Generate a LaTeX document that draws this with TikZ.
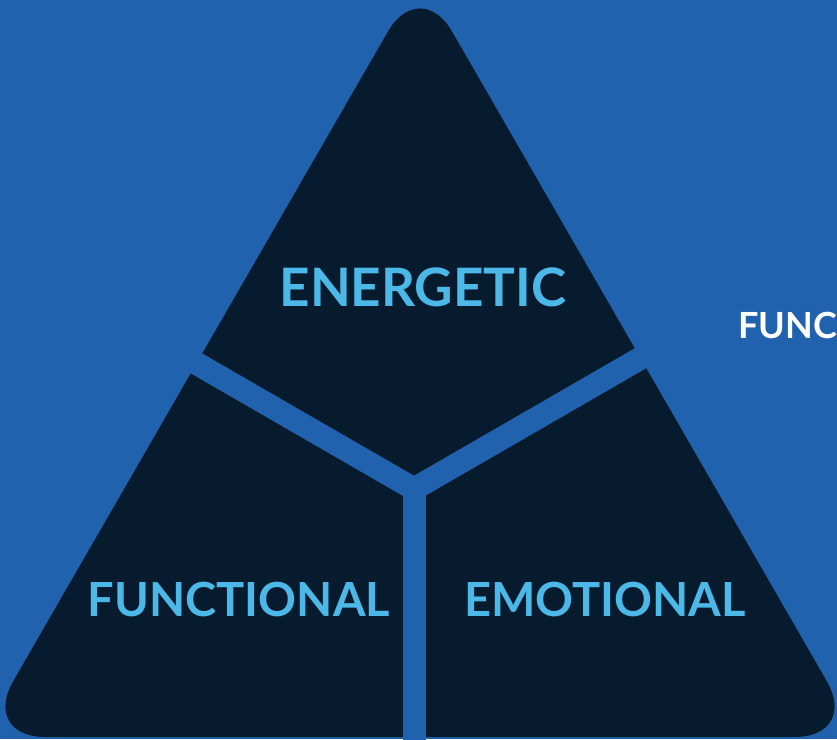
\documentclass[tikz,border=0pt]{standalone}
\usepackage{fontspec}
\setmainfont{Lato}
\definecolor{bgblue}{HTML}{2162AF}
\definecolor{navy}{HTML}{071B2F}
\definecolor{labelblue}{HTML}{4BB8E8}
\tikzset{
  seglabel/.style={text=labelblue, font=\fontsize{47}{54}\selectfont\bfseries, inner sep=0pt, anchor=base},
  gapline/.style={draw=bgblue, line width=23pt},
}
\begin{document}
\begin{tikzpicture}[x=1pt,y=-1pt]
\useasboundingbox (0,0) rectangle (837,739);
\clip (0,0) rectangle (837,739);
\fill[bgblue] (0,0) rectangle (837,739);
\fill[navy, rounded corners=64pt] (420,-24) -- (859,737) -- (-19,737) -- cycle;
\coordinate (C) at (414,489);
\coordinate (armL) at (67.6,289);
\coordinate (armR) at (760.4,289);
\coordinate (armD) at (414,800);
\draw[gapline] (C) -- (armL);
\draw[gapline] (C) -- (armR);
\draw[gapline] (C) -- (armD);
\node[seglabel, font=\fontsize{53}{60}\selectfont\bfseries] (energetic) at (423,306) {ENERGETIC};
\node[seglabel] (functional) at (239,616) {FUNCTIONAL};
\node[seglabel] (emotional) at (605,616) {EMOTIONAL};
\node[text=white, font=\fontsize{36}{42}\selectfont\bfseries, inner sep=0pt, anchor=base west] (func) at (738,338) {FUNC};
\end{tikzpicture}
\end{document}
